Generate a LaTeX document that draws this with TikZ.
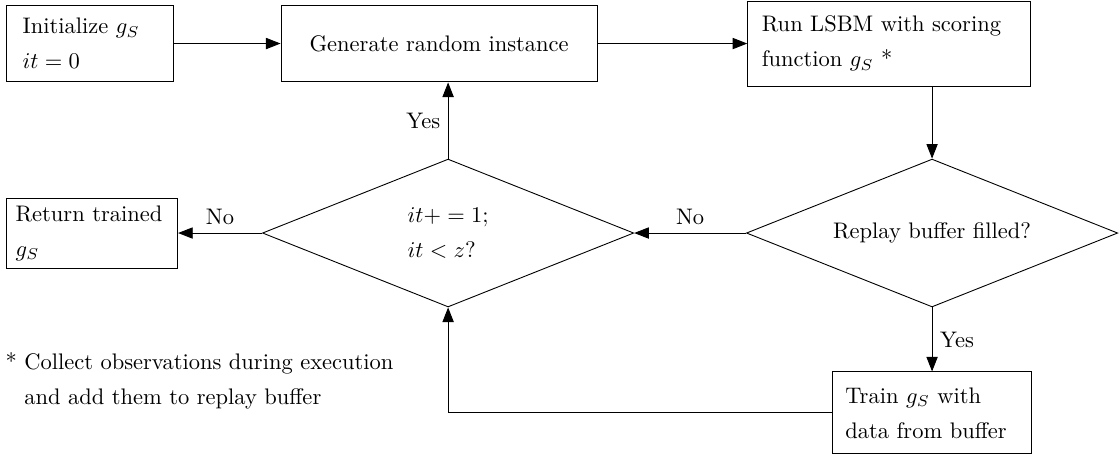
\documentclass[tikz,border=0pt]{standalone}
\usepackage{tikz}
\usetikzlibrary{shapes.geometric}
\usetikzlibrary{arrows.meta}

\tikzset{
  stepbox/.style={draw,align=left,inner xsep=0.2cm,minimum height=1.2cm,font=\linespread{1.3}\selectfont},
  choice/.style={draw,diamond,aspect=2.5,inner sep=0pt,minimum width=5.8cm,minimum height=2.31cm,align=left,font=\linespread{1.3}\selectfont},
  flow/.style={-{Triangle[length=6.5pt,width=5pt]}}
}

\begin{document}
\begin{tikzpicture}
        \useasboundingbox (0cm,0cm) rectangle (17.48cm,-7.12cm);
        \node[stepbox,inner xsep=0.25cm,text width=2.11cm] (init) at (1.41cm,-0.68cm) {Initialize \(g_S\)\\\(it=0\)};
        \node[stepbox,minimum width=4.94cm,align=center] (gen) at (6.86cm,-0.68cm) {Generate random instance};
        \node[stepbox,inner xsep=0.22cm,text width=3.98cm,minimum height=1.33cm] (run) at (13.89cm,-0.68cm) {Run LSBM with scoring\\function \(g_S\) *};
        \node[choice] (full) at (14.56cm,-3.64cm) {Replay buffer filled?};
        \node[choice] (count) at (7cm,-3.64cm) {\(it+=1;\)\\\(it<z?\)};
        \node[stepbox,inner xsep=0.14cm,text width=2.39cm,minimum height=1.09cm] (ret) at (1.44cm,-3.64cm) {Return trained\\\(g_S\)};
        \node[stepbox,text width=2.71cm,minimum height=1.28cm] (train) at (14.56cm,-6.45cm) {Train \(g_S\) with\\data from buffer};
        \node[anchor=west,align=left,inner sep=0pt,font=\linespread{1.3}\selectfont] (note) at (0.08cm,-5.95cm) {*~Collect observations during execution\\\phantom{*~}and add them to replay buffer};
        \draw[flow] (init) -- (gen);
        \draw[flow] (gen) -- (run);
        \draw[flow] (full.north |- run.south) -- (full.north);
        \draw[flow] (full.west) -- node[above]{No} (count.east);
        \draw[flow] (full.south) -- node[right]{Yes} (train.north);
        \draw[flow] (count.west) -- node[above]{No} (ret.east);
        \draw[flow] (count.north) -- node[left]{Yes} (count.north |- gen.south);
        \draw[flow] (train.west) -| (count.south);
      \end{tikzpicture}
\end{document}
